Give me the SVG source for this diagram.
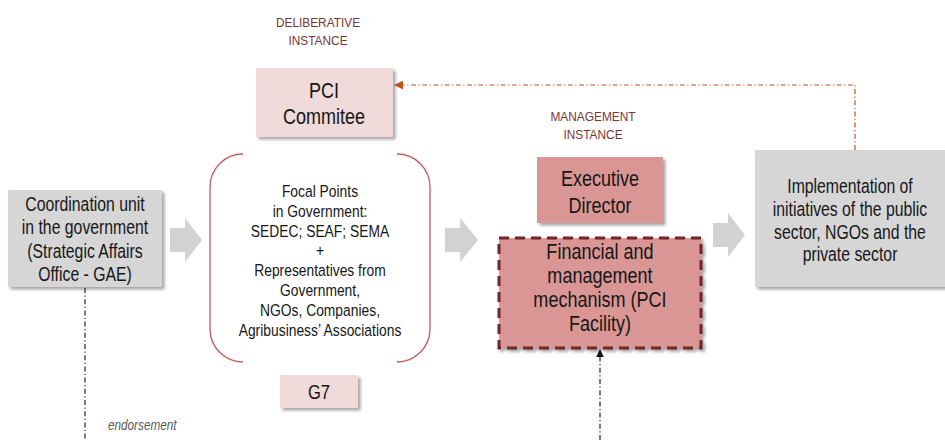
<svg xmlns="http://www.w3.org/2000/svg" width="945" height="440" viewBox="0 0 945 440">
  <defs>
    <filter id="shadow" x="-10%" y="-10%" width="130%" height="130%">
      <feDropShadow dx="2.5" dy="2.5" stdDeviation="1.5" flood-color="#000" flood-opacity="0.35"/>
    </filter>
    <marker id="headOrange" viewBox="0 0 10 10" refX="9" refY="5" markerWidth="9" markerHeight="9" markerUnits="userSpaceOnUse" orient="auto">
      <path d="M0,0 L10,5 L0,10 Z" fill="#b8571c"/>
    </marker>
    <marker id="headBlack" viewBox="0 0 10 10" refX="9" refY="5" markerWidth="8" markerHeight="8" markerUnits="userSpaceOnUse" orient="auto">
      <path d="M0,0 L10,5 L0,10 Z" fill="#111"/>
    </marker>
  </defs>
  <style>
    text { font-family: "Liberation Sans", Arial, sans-serif; fill: #161616; text-anchor: middle; }
    .big { font-size: 22px; }
    .mid { font-size: 19.5px; }
    .small { font-size: 16.5px; }
    .title { font-size: 13.5px; fill: #7a3434; }
    .note { font-size: 14px; font-style: italic; fill: #595959; text-anchor: start; }
    .grey { fill: #d6d6d6; filter: url(#shadow); }
    .pale { fill: #f0dada; filter: url(#shadow); }
    .rose { fill: #d99694; filter: url(#shadow); }
    .chev { fill: #d2d2d2; }
    .dashdot { fill: none; stroke-width: 1.2; stroke-dasharray: 5 2.5 1.2 2.5; }
  </style>

  <!-- section headings -->
  <g id="heading-deliberative" transform="translate(318 0) scale(0.88 1)">
    <text class="title" x="0" y="27">DELIBERATIVE</text>
    <text class="title" x="0" y="45">INSTANCE</text>
  </g>
  <g id="heading-management" transform="translate(593 0) scale(0.88 1)">
    <text class="title" x="0" y="121">MANAGEMENT</text>
    <text class="title" x="0" y="139">INSTANCE</text>
  </g>

  <!-- connectors -->
  <g id="connectors">
    <path class="chev" d="M170,228 L185,228 L185,218 L202,240 L185,262 L185,252 L170,252 Z"/>
    <path class="chev" d="M445,228 L460,228 L460,218 L478,240 L460,262 L460,252 L445,252 Z"/>
    <path class="chev" d="M713,223 L728,223 L728,213 L745,235 L728,257 L728,247 L713,247 Z"/>
    <path class="dashdot" stroke="#b8571c" d="M855,150 L855,85 L395,85" marker-end="url(#headOrange)"/>
    <path class="dashdot" stroke="#222" d="M85,288 L85,440"/>
    <path class="dashdot" stroke="#222" d="M600,440 L600,350" marker-end="url(#headBlack)"/>
    <g transform="translate(108 0) scale(0.84 1)">
      <text class="note" x="0" y="430">endorsement</text>
    </g>
  </g>

  <!-- coordination unit -->
  <g id="coordination-unit">
    <rect class="grey" x="8" y="190" width="154" height="97"/>
    <g transform="translate(85 0) scale(0.81 1)">
      <text class="mid" x="0" y="211">Coordination unit</text>
      <text class="mid" x="0" y="234">in the government</text>
      <text class="mid" x="0" y="258">(Strategic Affairs</text>
      <text class="mid" x="0" y="281">Office - GAE)</text>
    </g>
  </g>

  <!-- PCI committee -->
  <g id="pci-committee">
    <rect class="pale" x="256" y="68" width="137" height="69"/>
    <g transform="translate(324 0) scale(0.82 1)">
      <text class="big" x="0" y="98">PCI</text>
      <text class="big" x="0" y="124">Commitee</text>
    </g>
  </g>

  <!-- focal points bracket -->
  <g id="focal-points">
    <path d="M243,154 A33,33 0 0 0 210,187 L210,329 A33,33 0 0 0 243,362 M397,154 A33,33 0 0 1 430,187 L430,329 A33,33 0 0 1 397,362" fill="none" stroke="#c55a58" stroke-width="1.3"/>
    <g transform="translate(320 0) scale(0.84 1)">
      <text class="small" x="0" y="197">Focal Points</text>
      <text class="small" x="0" y="217">in Government:</text>
      <text class="small" x="0" y="237">SEDEC; SEAF; SEMA</text>
      <text class="small" x="0" y="256">+</text>
      <text class="small" x="0" y="276">Representatives from</text>
      <text class="small" x="0" y="296">Government,</text>
      <text class="small" x="0" y="316">NGOs, Companies,</text>
      <text class="small" x="0" y="336">Agribusiness’ Associations</text>
    </g>
  </g>

  <!-- G7 -->
  <g id="g7">
    <rect class="pale" x="280" y="375" width="78" height="33"/>
    <g transform="translate(319 0) scale(0.85 1)">
      <text class="mid" x="0" y="399">G7</text>
    </g>
  </g>

  <!-- executive director -->
  <g id="executive-director">
    <rect class="rose" x="537" y="157" width="126" height="66"/>
    <g transform="translate(600 0) scale(0.82 1)">
      <text class="big" x="0" y="186">Executive</text>
      <text class="big" x="0" y="213">Director</text>
    </g>
  </g>

  <!-- financial mechanism -->
  <g id="financial-mechanism">
    <rect class="rose" x="499" y="238" width="202" height="110" stroke="#6e2525" stroke-width="3" stroke-dasharray="10 6"/>
    <g transform="translate(600 0) scale(0.82 1)">
      <text class="big" x="0" y="259">Financial and</text>
      <text class="big" x="0" y="283">management</text>
      <text class="big" x="0" y="307">mechanism (PCI</text>
      <text class="big" x="0" y="331">Facility)</text>
    </g>
  </g>

  <!-- implementation -->
  <g id="implementation">
    <rect class="grey" x="755" y="150" width="192" height="137"/>
    <g transform="translate(850 0) scale(0.81 1)">
      <text class="mid" x="0" y="193">Implementation of</text>
      <text class="mid" x="0" y="216">initiatives of the public</text>
      <text class="mid" x="0" y="239">sector, NGOs and the</text>
      <text class="mid" x="0" y="261">private sector</text>
    </g>
  </g>
</svg>
